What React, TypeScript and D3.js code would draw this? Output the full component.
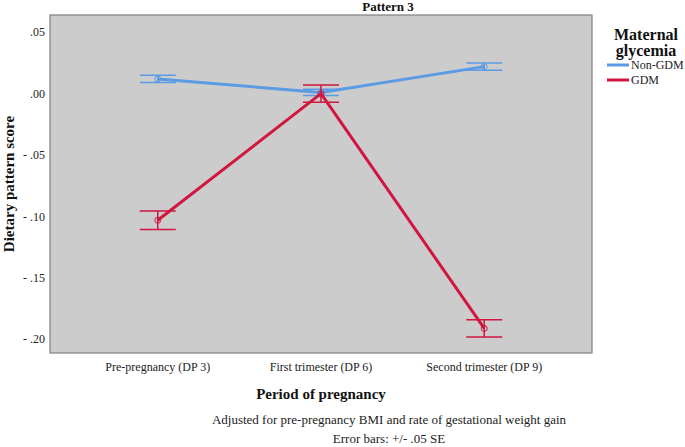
import React from "react";
import * as d3 from "d3";

const periods = ["Pre-pregnancy (DP 3)", "First trimester (DP 6)", "Second trimester (DP 9)"];
const nonGdmMean = [0.012, 0.001, 0.022];
const nonGdmErr = [0.003, 0.0025, 0.003];
const gdmMean = [-0.103, 0.0, -0.191];
const gdmErr = [0.0075, 0.007, 0.007];
const yTicks = [0.05, 0.0, -0.05, -0.1, -0.15, -0.2];

const groups = [
  { name: "Non-GDM", color: "#5b9be3", mean: nonGdmMean, err: nonGdmErr },
  { name: "GDM", color: "#d1163f", mean: gdmMean, err: gdmErr },
];

const W = 685;
const H = 447;
const plot = { left: 50, top: 15, right: 592, bottom: 353 };
const font = "Liberation Serif";

const fmt = (v: number) => {
  if (Math.abs(v) < 1e-9) return ".00";
  const s = Math.abs(v).toFixed(2).replace(/^0/, "");
  return v < 0 ? "- " + s : s;
};

export default function App() {
  const x = d3.scalePoint<string>().domain(periods).range([plot.left, plot.right]).padding(0.66);
  const y = d3.scaleLinear().domain([-0.211, 0.064]).range([plot.bottom, plot.top]);
  const line = d3
    .line<number>()
    .x((_, i) => x(periods[i]) as number)
    .y((d) => y(d));
  const cap = 18;
  const txt = { fontFamily: font };

  return (
    <svg width={W} height={H} style={{ position: "absolute", left: 0, top: 0, background: "#fff" }}>
      <rect
        x={plot.left}
        y={plot.top}
        width={plot.right - plot.left}
        height={plot.bottom - plot.top}
        fill="#cccccc"
        stroke="#7f7f7f"
        strokeWidth={1.2}
      />
      {/* y axis ticks */}
      {yTicks.map((t) => (
        <text key={t} x={plot.left - 5} y={y(t) + 4} textAnchor="end" style={txt} fontSize={12} fill="#222">
          {fmt(t)}
        </text>
      ))}
      {/* x labels */}
      {periods.map((p) => (
        <text key={p} x={x(p)} y={371} textAnchor="middle" style={txt} fontSize={12} fill="#222">
          {p}
        </text>
      ))}
      {/* series */}
      {groups.map((g) => (
        <g key={g.name}>
          <path d={line(g.mean) || ""} fill="none" stroke={g.color} strokeWidth={3} strokeLinejoin="round" />
          {g.mean.map((m, i) => {
            const cx = x(periods[i]) as number;
            const hi = y(m + g.err[i]);
            const lo = y(m - g.err[i]);
            return (
              <g key={i} stroke={g.color} strokeWidth={1.5} fill="none">
                <line x1={cx} x2={cx} y1={hi} y2={lo} />
                <line x1={cx - cap} x2={cx + cap} y1={hi} y2={hi} />
                <line x1={cx - cap} x2={cx + cap} y1={lo} y2={lo} />
                <circle cx={cx} cy={y(m)} r={3} strokeWidth={1} />
              </g>
            );
          })}
        </g>
      ))}
      {/* title */}
      <text x={388} y={11} textAnchor="middle" style={txt} fontSize={13} fontWeight="bold" fill="#111">
        Pattern 3
      </text>
      {/* axis titles */}
      <text
        transform={`translate(14, ${(plot.top + plot.bottom) / 2}) rotate(-90)`}
        textAnchor="middle"
        style={txt}
        fontSize={15}
        fontWeight="bold"
        fill="#111"
      >
        Dietary pattern score
      </text>
      <text x={321} y={399} textAnchor="middle" style={txt} fontSize={15} fontWeight="bold" fill="#111">
        Period of pregnancy
      </text>
      <text x={389} y={424} textAnchor="middle" style={txt} fontSize={13} fill="#222">
        Adjusted for pre-pregnancy BMI and rate of gestational weight gain
      </text>
      <text x={389} y={443} textAnchor="middle" style={txt} fontSize={13} fill="#222">
        Error bars: +/- .05 SE
      </text>
      {/* legend */}
      <text x={646} y={40} textAnchor="middle" style={txt} fontSize={16} fontWeight="bold" fill="#111">
        Maternal
      </text>
      <text x={646} y={56} textAnchor="middle" style={txt} fontSize={16} fontWeight="bold" fill="#111">
        glycemia
      </text>
      {groups.map((g, i) => (
        <g key={g.name} transform={`translate(607, ${65 + i * 15})`}>
          <line x1={0} x2={22} y1={0} y2={0} stroke={g.color} strokeWidth={3} />
          <text x={24} y={4} style={txt} fontSize={12} fill="#222">
            {g.name}
          </text>
        </g>
      ))}
    </svg>
  );
}
